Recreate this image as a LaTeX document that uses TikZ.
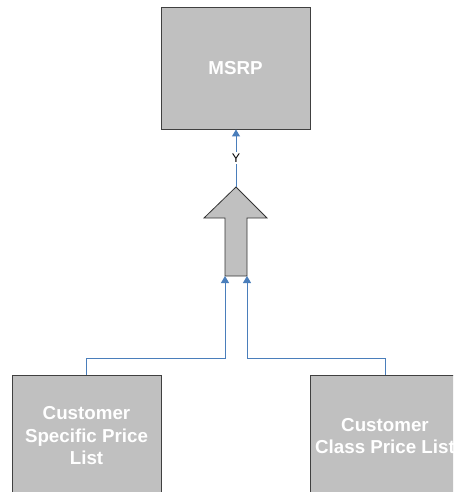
\documentclass[tikz,border=0pt]{standalone}
\usepackage{fontspec}
\setmainfont{Liberation Sans}
\usetikzlibrary{arrows.meta}
\definecolor{boxgray}{HTML}{C0C0C0}
\definecolor{connblue}{HTML}{4A7EBB}
\begin{document}
\begin{tikzpicture}[x=1pt,y=-1pt,
  box/.style={draw=black!75, line width=0.9pt, fill=boxgray, minimum width=149pt, minimum height=122pt,
    inner sep=0pt, align=center, text=white, font=\fontsize{18.75}{22.5}\selectfont\bfseries},
  bigarrow/.style={draw=black!80, line width=0.8pt, fill=boxgray},
  conn/.style={draw=connblue, line width=1pt, -{Triangle[width=8pt,length=7pt]}},
  lbl/.style={fill=white, inner sep=1.5pt, font=\fontsize{12.5}{14}\selectfont}]
\clip (0,0) rectangle (453,492);
\node[box] (msrp) at (235.5,68) {MSRP};
\node[box] (csp) at (86.5,436) {Customer\\Specific Price\\List};
\node[box] (ccp) at (385,436) {Customer\\Class Price List};
\draw[bigarrow] (225,276) coordinate (aL) -- (225,218) -- (204,218) -- (236,187) coordinate (tip)
  -- (267,218) -- (247,218) -- (247,276) coordinate (aR) -- cycle;
\draw[conn] (csp.north) |- (225,358) -- (aL);
\draw[conn] (ccp.north) |- (247,358) -- (aR);
\draw[conn] (tip) -- node[lbl]{Y} (msrp.south -| tip);
\end{tikzpicture}
\end{document}
